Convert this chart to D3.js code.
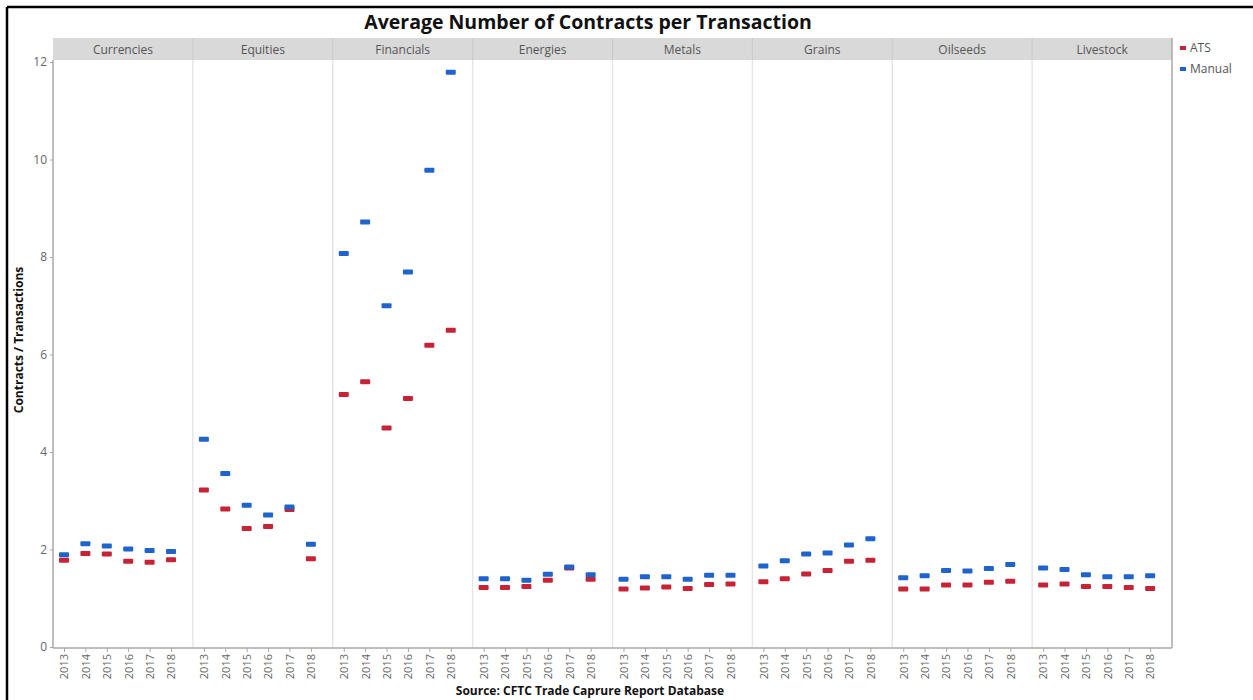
<!doctype html>
<html>
<head>
<meta charset="utf-8">
<script src="https://d3js.org/d3.v7.min.js"></script>
<style>
  body { margin: 0; background: #fff; }
  text { font-family: "Open Sans", "Noto Sans", sans-serif; }
</style>
</head>
<body>
<svg width="1253" height="700"></svg>
<script>
var sectors = ["Currencies", "Equities", "Financials", "Energies", "Metals", "Grains", "Oilseeds", "Livestock"];
var years = ["2013", "2014", "2015", "2016", "2017", "2018"];
var yTicks = [0, 2, 4, 6, 8, 10, 12];

// values per sector, one per year
var atsValues = [
  [1.78, 1.92, 1.91, 1.76, 1.74, 1.79],
  [3.22, 2.83, 2.43, 2.47, 2.82, 1.81],
  [5.18, 5.44, 4.49, 5.10, 6.19, 6.50],
  [1.22, 1.22, 1.24, 1.37, 1.62, 1.39],
  [1.19, 1.21, 1.23, 1.20, 1.28, 1.29],
  [1.34, 1.40, 1.50, 1.57, 1.76, 1.78],
  [1.19, 1.19, 1.27, 1.27, 1.33, 1.35],
  [1.27, 1.29, 1.24, 1.24, 1.22, 1.20]
];
var manualValues = [
  [1.89, 2.12, 2.07, 2.01, 1.98, 1.96],
  [4.26, 3.56, 2.91, 2.71, 2.87, 2.11],
  [8.07, 8.72, 7.00, 7.69, 9.78, 11.79],
  [1.40, 1.40, 1.37, 1.49, 1.64, 1.48],
  [1.39, 1.44, 1.44, 1.39, 1.47, 1.47],
  [1.66, 1.77, 1.91, 1.93, 2.09, 2.22],
  [1.42, 1.46, 1.57, 1.56, 1.61, 1.69],
  [1.62, 1.59, 1.48, 1.44, 1.44, 1.46]
];

var series = [
  {name: "ATS", values: atsValues, color: "#c62436"},
  {name: "Manual", values: manualValues, color: "#1f63cc"}
];

var svg = d3.select("svg");
var plotLeft = 53, plotRight = 1172, plotTop = 60, plotBottom = 648, stripTop = 38;

// black frame (top and left edges of the screenshot)
svg.append("line").attr("x1", 7).attr("x2", 1253).attr("y1", 7).attr("y2", 7)
   .attr("stroke", "#000").attr("stroke-width", 2.5);
svg.append("line").attr("x1", 7).attr("x2", 7).attr("y1", 7).attr("y2", 700)
   .attr("stroke", "#000").attr("stroke-width", 2.5);

var xPanel = d3.scaleBand().domain(sectors).range([plotLeft, plotRight]);
var xYear = d3.scalePoint().domain(years).range([11, 118]);
var y = d3.scaleLinear().domain([0, 12]).range([647, 62]);

svg.append("text")
   .attr("x", 588).attr("y", 29)
   .attr("text-anchor", "middle")
   .attr("font-size", "19.5px").attr("font-weight", "bold")
   .attr("fill", "#111")
   .text("Average Number of Contracts per Transaction");

// strips
var strip = svg.append("g").selectAll("g").data(sectors).enter().append("g");
strip.append("rect")
   .attr("x", function(d) { return xPanel(d); })
   .attr("y", stripTop)
   .attr("width", xPanel.bandwidth())
   .attr("height", plotTop - stripTop)
   .attr("fill", "#d9d9d9");
strip.append("text")
   .attr("x", function(d) { return xPanel(d) + xPanel.bandwidth() / 2; })
   .attr("y", 54)
   .attr("text-anchor", "middle")
   .attr("font-size", "12px")
   .attr("fill", "#555")
   .text(function(d) { return d; });

// panel separators
svg.append("g").selectAll("line").data(sectors.slice(1)).enter().append("line")
   .attr("x1", function(d) { return xPanel(d); })
   .attr("x2", function(d) { return xPanel(d); })
   .attr("y1", plotTop).attr("y2", plotBottom)
   .attr("stroke", "#e6e6e6").attr("stroke-width", 1.5);
svg.append("g").selectAll("line").data(sectors.slice(1)).enter().append("line")
   .attr("x1", function(d) { return xPanel(d); })
   .attr("x2", function(d) { return xPanel(d); })
   .attr("y1", stripTop).attr("y2", plotTop)
   .attr("stroke", "#c8c8c8").attr("stroke-width", 1);

// right border
svg.append("line").attr("x1", plotRight).attr("x2", plotRight).attr("y1", stripTop).attr("y2", plotBottom)
   .attr("stroke", "#a8a8a8").attr("stroke-width", 1.5);

// y axis
var yAxis = svg.append("g")
   .attr("transform", "translate(" + plotLeft + ",0)")
   .call(d3.axisLeft(y).tickValues(yTicks).tickSize(3).tickSizeOuter(0));
yAxis.select(".domain").attr("stroke", "#a8a8a8").attr("stroke-width", 1.5)
   .attr("d", "M0," + plotTop + "V" + plotBottom);
yAxis.selectAll(".tick line").attr("stroke", "#a8a8a8");
yAxis.selectAll(".tick text").attr("font-size", "12px").attr("fill", "#666")
   .attr("font-family", "Open Sans, sans-serif");

svg.append("text")
   .attr("transform", "translate(23,340) rotate(-90)")
   .attr("text-anchor", "middle")
   .attr("font-size", "12px").attr("font-weight", "bold")
   .attr("fill", "#111")
   .text("Contracts / Transactions");

// x axis line
svg.append("line").attr("x1", plotLeft).attr("x2", plotRight).attr("y1", plotBottom).attr("y2", plotBottom)
   .attr("stroke", "#a8a8a8").attr("stroke-width", 1.5);

// year ticks per panel
sectors.forEach(function(s) {
  var g = svg.append("g").attr("transform", "translate(" + xPanel(s) + "," + plotBottom + ")");
  var ax = g.call(d3.axisBottom(xYear).tickSize(4).tickSizeOuter(0));
  ax.select(".domain").remove();
  ax.selectAll(".tick line").attr("stroke", "#a8a8a8");
  ax.selectAll(".tick text")
    .attr("transform", "rotate(-90)")
    .attr("x", -6).attr("y", 0).attr("dy", "0.35em")
    .attr("text-anchor", "end")
    .attr("font-size", "11px").attr("fill", "#666")
    .attr("font-family", "Open Sans, sans-serif");
});

svg.append("text")
   .attr("x", 590).attr("y", 695)
   .attr("text-anchor", "middle")
   .attr("font-size", "12px").attr("font-weight", "bold")
   .attr("fill", "#111")
   .text("Source: CFTC Trade Caprure Report Database");

// marks
series.forEach(function(ser) {
  sectors.forEach(function(s, i) {
    svg.append("g").selectAll("rect")
       .data(ser.values[i]).enter().append("rect")
       .attr("x", function(d, j) { return xPanel(s) + xYear(years[j]) - 5; })
       .attr("y", function(d) { return y(d) - 2.5; })
       .attr("width", 10).attr("height", 5)
       .attr("rx", 1)
       .attr("fill", ser.color);
  });
});

// legend
var leg = svg.append("g").selectAll("g").data(series).enter().append("g")
   .attr("transform", function(d, i) { return "translate(1180," + (48 + i * 21) + ")"; });
leg.append("rect").attr("x", 0).attr("y", -2).attr("width", 6).attr("height", 4)
   .attr("fill", function(d) { return d.color; });
leg.append("text").attr("x", 10).attr("y", 0).attr("dy", "0.35em")
   .attr("font-size", "12px").attr("fill", "#555")
   .text(function(d) { return d.name; });
</script>
</body>
</html>
